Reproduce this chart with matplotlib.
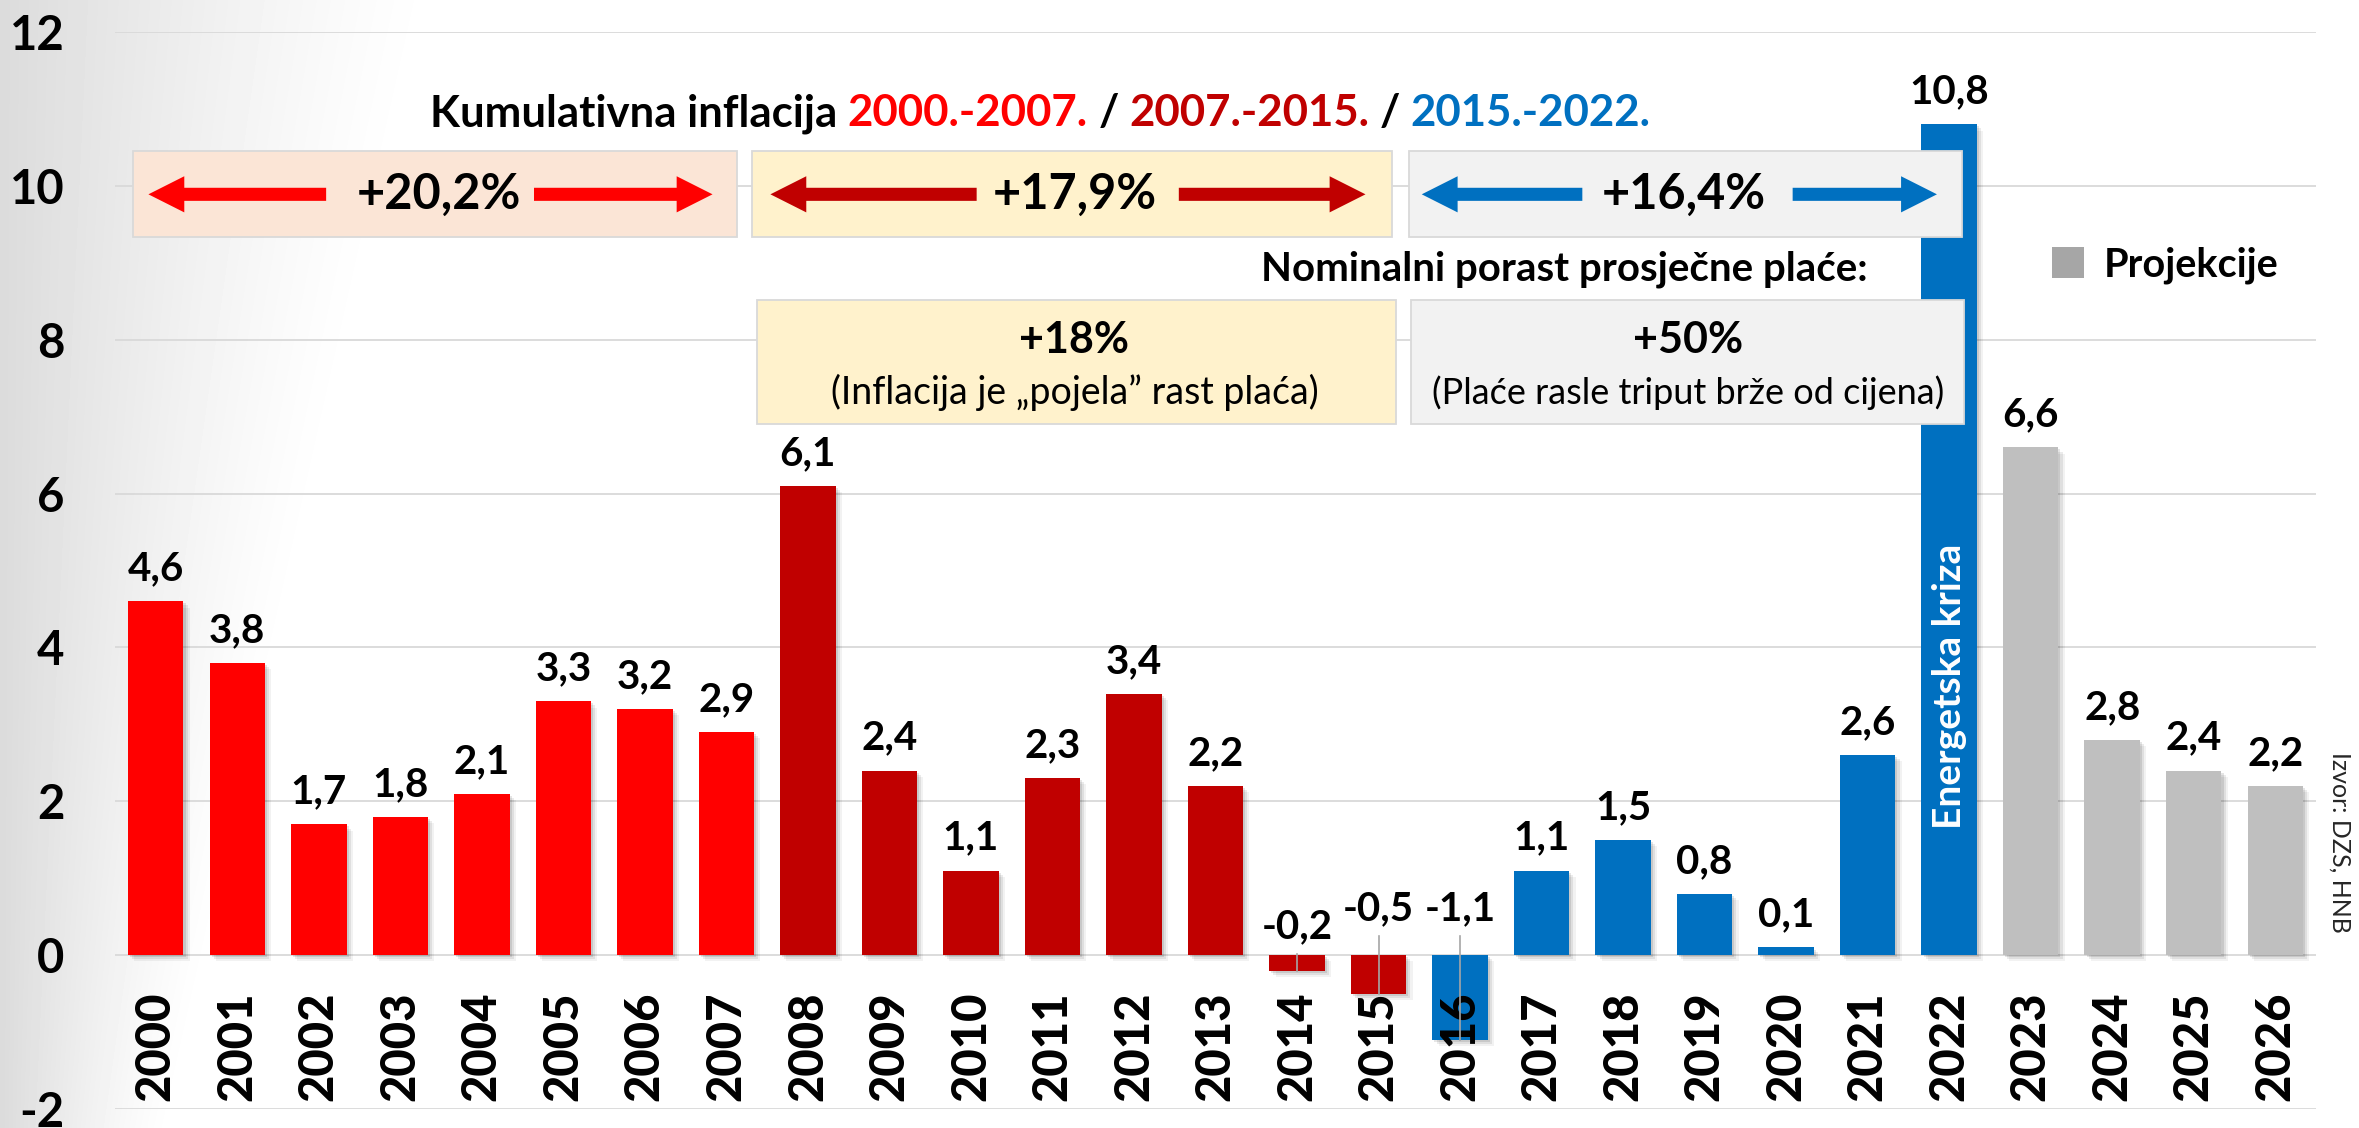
import numpy as np
import matplotlib
matplotlib.use("Agg")
import matplotlib.pyplot as plt
from matplotlib.patches import Rectangle, FancyArrow, Patch
from matplotlib import patheffects as pe
from matplotlib.offsetbox import TextArea, HPacker, AnnotationBbox
from matplotlib import font_manager as fm

# ---------------- data ----------------
years = ["2000", "2001", "2002", "2003", "2004", "2005", "2006", "2007", "2008",
         "2009", "2010", "2011", "2012", "2013", "2014", "2015", "2016", "2017",
         "2018", "2019", "2020", "2021", "2022", "2023", "2024", "2025", "2026"]
inflation = [4.6, 3.8, 1.7, 1.8, 2.1, 3.3, 3.2, 2.9, 6.1, 2.4, 1.1, 2.3, 3.4, 2.2,
             -0.2, -0.5, -1.1, 1.1, 1.5, 0.8, 0.1, 2.6, 10.8, 6.6, 2.8, 2.4, 2.2]
period = ["p1"] * 8 + ["p2"] * 8 + ["p3"] * 7 + ["proj"] * 4
period_colors = {"p1": "#FF0000", "p2": "#C00000", "p3": "#0070C0", "proj": "#BFBFBF"}
y_ticks = [-2, 0, 2, 4, 6, 8, 10, 12]

title_parts = [("Kumulativna inflacija", "black"), ("2000.-2007.", "#FF0000"), ("/", "black"),
               ("2007.-2015.", "#C00000"), ("/", "black"), ("2015.-2022.", "#0070C0")]
cum_inflation = ["+20,2%", "+17,9%", "+16,4%"]
arrow_colors = ["#FF0000", "#C00000", "#0070C0"]
wage_growth = ["+18%", "+50%"]
wage_notes = ["(Inflacija je \u201epojela\u201d rast pla\u0107a)", "(Pla\u0107e rasle triput br\u017ee od cijena)"]
wage_title = "Nominalni porast prosje\u010dne pla\u0107e:"
legend_label = "Projekcije"
source = "Izvor: DZS, HNB"
crisis_label = "Energetska kriza"

# ---------------- fonts ----------------
def has_font(name):
    try:
        fm.findfont(fm.FontProperties(family=name), fallback_to_default=False)
        return True
    except Exception:
        return False

FONT = "Lato" if has_font("Lato") else "DejaVu Sans"
plt.rcParams["font.family"] = [FONT, "DejaVu Sans"]
plt.rcParams["axes.unicode_minus"] = False

W, H = 2359, 1128
fig = plt.figure(figsize=(W / 100, H / 100), dpi=100)

# background gradient (gray on the left fading to white)
bg = fig.add_axes([0, 0, 1, 1], zorder=-10)
yy, xx = np.mgrid[0:H:4, 0:W:4]
L = 440 - 270 * (yy / H)
t = np.clip(1 - xx / L, 0, 1)
img = 1 - 0.14 * t ** 1.3
bg.imshow(img, cmap="gray", vmin=0, vmax=1, extent=[0, W, H, 0], aspect="auto",
          interpolation="bilinear")
bg.axis("off")

ax = fig.add_axes([115 / W, 1 - 1109 / H, (2316 - 115) / W, (1109 - 32) / H])
ax.set_facecolor("none")
x = np.arange(len(years))

shadow = [pe.SimplePatchShadow(offset=(1.5, -1.5), shadow_rgbFace="k", alpha=0.10),
          pe.SimplePatchShadow(offset=(3, -3), shadow_rgbFace="k", alpha=0.08),
          pe.SimplePatchShadow(offset=(4.5, -4.5), shadow_rgbFace="k", alpha=0.05),
          pe.Normal()]
bars = ax.bar(x, inflation, width=0.68, color=[period_colors[p] for p in period], zorder=3)
for b in bars:
    b.set_path_effects(shadow)

ax.set_xlim(-0.5, len(years) - 0.5)
ax.set_ylim(-2, 12)
ax.set_yticks(y_ticks)
ax.set_yticklabels([str(v) for v in y_ticks], fontsize=34, fontweight="bold")
ax.set_xticks([])
ax.tick_params(axis="y", length=0, pad=36.5)
ax.yaxis.grid(True, color="#D9D9D9", lw=1.3)
ax.set_axisbelow(True)
for s in ax.spines.values():
    s.set_visible(False)

# year labels (just under the zero line)
for i, yr in enumerate(years):
    ax.annotate(yr, xy=(i, 0), xytext=(0, -26), textcoords="offset points",
                rotation=90, ha="center", va="top", fontsize=34, fontweight="black",
                zorder=6, annotation_clip=False)

# value labels
neg_label_base = {14: 0.22, 15: 0.455, 16: 0.455}
for i, v in enumerate(inflation):
    lab = f"{v:.1f}".replace(".", ",")
    if v >= 0:
        ax.annotate(lab, xy=(i, v), xytext=(0, 15), textcoords="offset points",
                    ha="center", va="baseline", fontsize=29, fontweight="bold", zorder=6)
    else:
        base = neg_label_base[i]
        ax.text(i, base, lab, ha="center", va="baseline", fontsize=29,
                fontweight="bold", zorder=6)
        ax.plot([i, i], [base - 0.2, v], color="#A6A6A6", lw=1.2, zorder=7)

ax.text(22, 3.5, crisis_label, rotation=90, color="white", ha="center", va="center",
        fontsize=28, fontweight="bold", zorder=4)

# boxes
box_edge = "#D9D9D9"
boxes = [(-0.28, 7.13, 9.337, 10.455, "#FBE5D6"),
         (7.32, 15.17, 9.337, 10.455, "#FFF2CC"),
         (15.37, 22.16, 9.337, 10.455, "#F2F2F2"),
         (7.38, 15.21, 6.905, 8.518, "#FFF2CC"),
         (15.40, 22.18, 6.905, 8.518, "#F2F2F2")]
for x0, x1, y0, y1, fc in boxes:
    ax.add_patch(Rectangle((x0, y0), x1 - x0, y1 - y0, facecolor=fc, edgecolor=box_edge,
                           lw=1.3, zorder=5))

# arrows and cumulative inflation values
arrow_y = 9.89
text_x = [3.47, 11.28, 18.75]
arrows = [((2.09, -0.09), (4.64, 6.83)),
          ((10.07, 7.54), (12.55, 14.84)),
          ((17.50, 15.53), (20.08, 21.85))]
for k in range(3):
    for tail, tip in arrows[k]:
        ax.add_patch(FancyArrow(tail, arrow_y, tip - tail, 0, width=0.17, head_width=0.47,
                                head_length=0.44, length_includes_head=True,
                                color=arrow_colors[k], lw=0, zorder=6))
    ax.text(text_x[k], arrow_y, cum_inflation[k], ha="center", va="center", fontsize=35,
            fontweight="bold", zorder=6)

# wage growth texts
ax.text(17.28, 8.91, wage_title, ha="center", va="center", fontsize=29, fontweight="bold",
        zorder=6)
for cx, big, note, fs in zip([11.27, 18.8], wage_growth, wage_notes, [27, 26]):
    ax.text(cx, 8.0, big, ha="center", va="center", fontsize=31, fontweight="bold", zorder=6)
    ax.text(cx, 7.31, note, ha="center", va="center", fontsize=fs, zorder=6)

# multi-coloured title
areas = [TextArea(s, textprops=dict(color=c, fontsize=31.5, fontweight="bold", family=[FONT, "DejaVu Sans"]))
         for s, c in title_parts]
pack = HPacker(children=areas, align="baseline", pad=0, sep=7.5)
ab = AnnotationBbox(pack, (10.85, 10.94), xycoords="data", frameon=False,
                    box_alignment=(0.5, 0.5), pad=0, zorder=6)
ax.add_artist(ab)

# legend
ax.legend(handles=[Patch(facecolor="#A6A6A6", edgecolor="none", label=legend_label)],
          loc="center left", bbox_to_anchor=(2052 / W, 1 - 265 / H),
          bbox_transform=fig.transFigure, frameon=False,
          prop=fm.FontProperties(family=[FONT, "DejaVu Sans"], weight="bold", size=28.5),
          handlelength=0.8, handleheight=0.8, handletextpad=0.5, borderpad=0,
          borderaxespad=0)

fig.text(2340 / W, 1 - 842 / H, source, rotation=270, ha="center", va="center",
         fontsize=18, color="#262626")

fig.savefig("out.png", dpi=100)
